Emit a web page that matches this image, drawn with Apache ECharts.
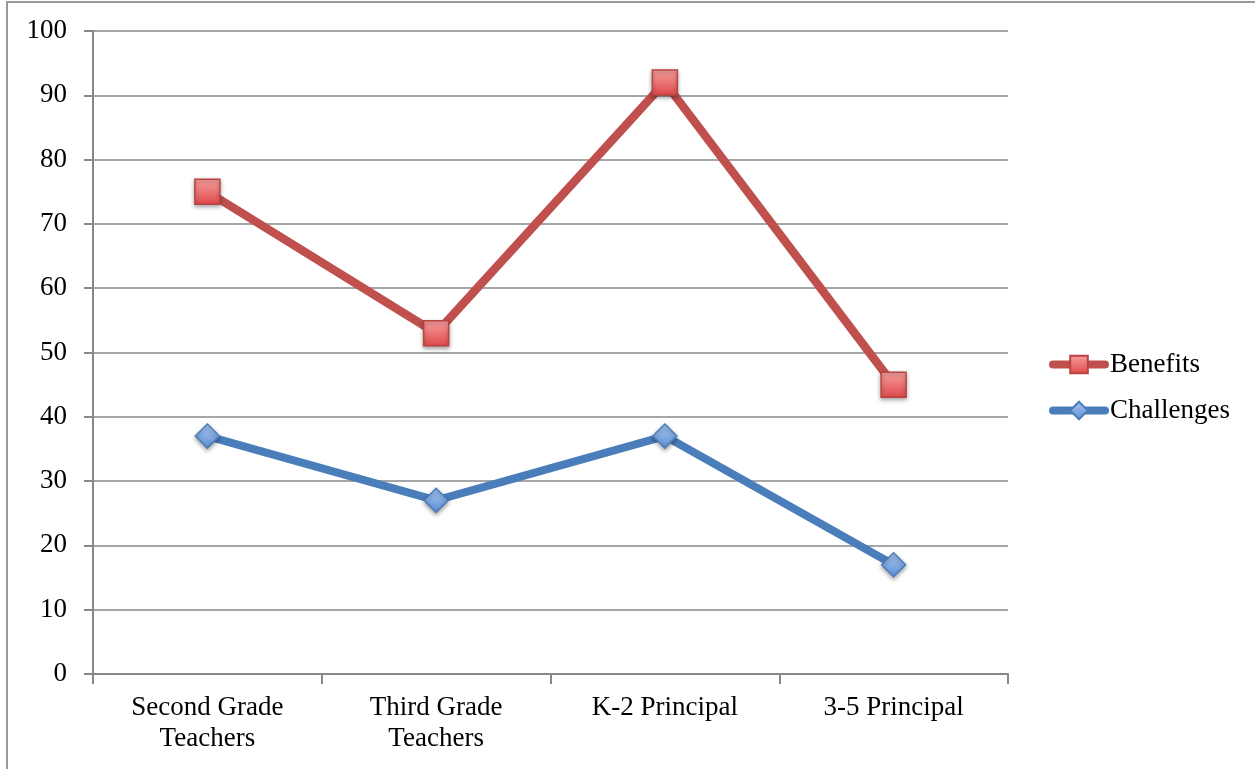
<!DOCTYPE html>
<html><head><meta charset="utf-8">
<script src="https://cdn.jsdelivr.net/npm/echarts@6/dist/echarts.min.js"></script>
<style>html,body{margin:0;padding:0;background:#fff}#c{width:1255px;height:769px}</style>
</head><body><div id="c"></div>
<script>
const categories = ['Second Grade\nTeachers', 'Third Grade\nTeachers', 'K-2 Principal', '3-5 Principal'];
const benefits = [75, 53, 92, 45];
const challenges = [37, 27, 37, 17];
const yTicks = [0, 100, 10];

const font = '"Liberation Serif", serif';
const red = '#C0504D', blue = '#4A7EBB';
const redFill = new echarts.graphic.LinearGradient(0,0,0,1,[{offset:0,color:'#F7A0A0'},{offset:1,color:'#E04848'}]);
const blueFill = new echarts.graphic.LinearGradient(0,0,0,1,[{offset:0,color:'#A9C7F0'},{offset:1,color:'#5E8FD6'}]);
const chart = echarts.init(document.getElementById('c'), null, {renderer: 'canvas'});
chart.setOption({
  animation: false,
  backgroundColor: '#fff',
  graphic: [{type: 'rect', shape: {x: 7, y: 2, width: 1300, height: 800}, style: {fill: 'none', stroke: '#9a9a9a', lineWidth: 2}}],
  grid: {left: 93, top: 31, width: 915, height: 643, containLabel: false},
  xAxis: {
    type: 'category', data: categories, boundaryGap: true,
    axisLine: {lineStyle: {color: '#888', width: 2}},
    axisTick: {show: true, length: 10, lineStyle: {color: '#888', width: 2}},
    axisLabel: {color: '#000', fontFamily: font, fontSize: 27, lineHeight: 31, margin: 18, interval: 0}
  },
  yAxis: {
    type: 'value', min: yTicks[0], max: yTicks[1], interval: yTicks[2],
    axisLine: {show: true, lineStyle: {color: '#888', width: 2}},
    axisTick: {show: true, length: 9, lineStyle: {color: '#888', width: 2}},
    splitLine: {lineStyle: {color: '#888', width: 1.5}},
    axisLabel: {color: '#000', fontFamily: font, fontSize: 27, margin: 26}
  },
  legend: {
    orient: 'vertical', left: 1044, top: 346, itemGap: 19, itemWidth: 52, itemHeight: 22,
    textStyle: {fontFamily: font, fontSize: 27, color: '#000', padding: [0, 0, 0, 0]},
    data: [
      {name: 'Benefits', lineStyle: {width: 8, color: red, cap: 'round'}},
      {name: 'Challenges', lineStyle: {width: 8, color: blue, cap: 'round'}}
    ]
  },
  series: [
    {name: 'Benefits', type: 'line', data: benefits, symbol: 'rect', symbolSize: 25,
     lineStyle: {color: red, width: 8.5},
     itemStyle: {color: redFill, borderColor: '#B84541', borderWidth: 1.5, shadowColor: 'rgba(0,0,0,0.35)', shadowBlur: 4, shadowOffsetY: 2}},
    {name: 'Challenges', type: 'line', data: challenges, symbol: 'diamond', symbolSize: 24,
     lineStyle: {color: blue, width: 8},
     itemStyle: {color: blueFill, borderColor: blue, borderWidth: 1.5, shadowColor: 'rgba(0,0,0,0.35)', shadowBlur: 4, shadowOffsetY: 2}}
  ]
});
</script></body></html>
